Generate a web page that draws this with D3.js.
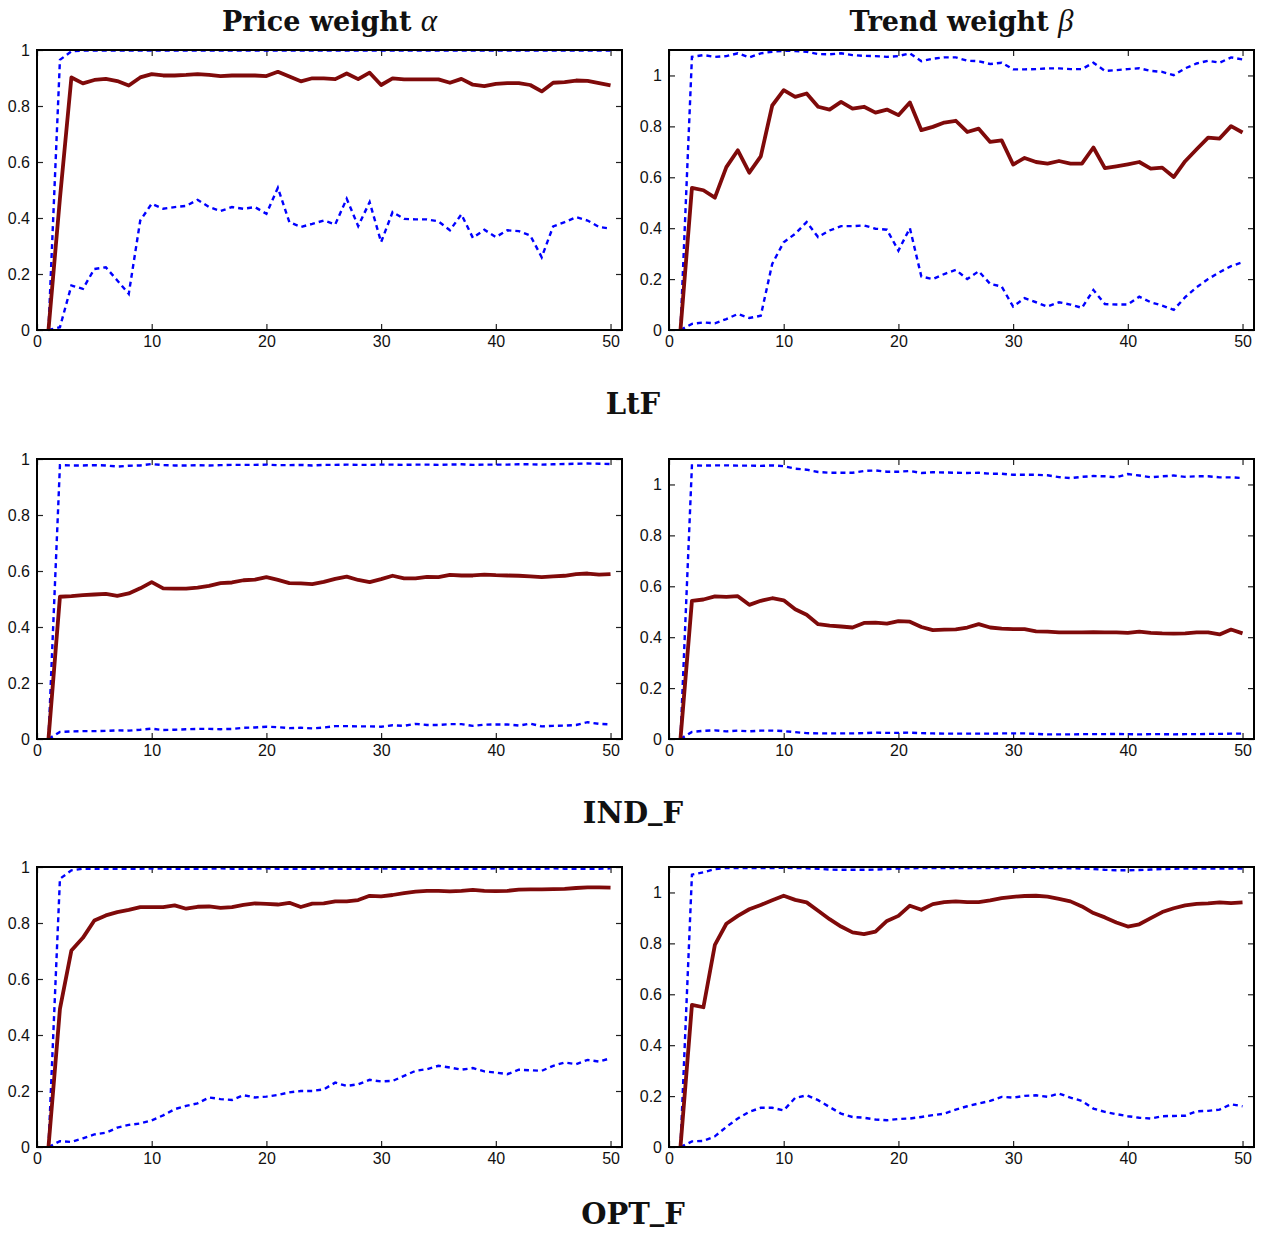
<!DOCTYPE html>
<html>
<head>
<meta charset="utf-8">
<script src="https://cdn.jsdelivr.net/npm/d3@7"></script>
<style>
  body { margin: 0; background: #fff; }
  .tick text { font-family: "Liberation Sans", Arial, sans-serif; font-size: 16px; fill: #111; }
  .title { font-family: "DejaVu Serif", "Liberation Serif", serif; font-weight: bold; font-size: 27px; fill: #111; }
  .rowlabel { font-family: "DejaVu Serif", "Liberation Serif", serif; font-weight: bold; font-size: 29px; fill: #111; }
</style>
</head>
<body>
<svg id="chart" width="1265" height="1233"></svg>
<script>
// horizon 1..50
const steps = d3.range(1, 51);

const colTitles = ["Price weight ", "Trend weight "];
const colGreek = ["α", "β"];
const rowLabels = [["LtF"], ["IND", "F"], ["OPT", "F"]];
const xTicks = [0, 10, 20, 30, 40, 50];
const yTicks = [0, 0.2, 0.4, 0.6, 0.8, 1];

// LtF, price weight alpha
const ltfAlphaMed = [0,0.47,0.902,0.881,0.893,0.897,0.889,0.873,0.902,0.914,0.909,0.909,0.911,0.914,0.911,0.907,0.909,0.909,0.909,0.907,0.922,0.905,0.888,0.899,0.899,0.896,0.916,0.896,0.919,0.875,0.899,0.895,0.895,0.895,0.895,0.883,0.897,0.876,0.871,0.879,0.882,0.882,0.875,0.852,0.883,0.885,0.891,0.89,0.882,0.874];
const ltfAlphaHi = [0,0.965,0.995,0.998,0.998,0.998,0.998,0.998,0.998,0.998,0.998,0.998,0.998,0.998,0.998,0.998,0.998,0.998,0.998,0.998,0.998,0.998,0.998,0.998,0.998,0.998,0.998,0.998,0.998,0.998,0.998,0.998,0.998,0.998,0.998,0.998,0.998,0.998,0.998,0.998,0.998,0.998,0.998,0.998,0.998,0.998,0.998,0.998,0.998,0.998];
const ltfAlphaLo = [0,0.01,0.159,0.147,0.218,0.224,0.177,0.129,0.391,0.451,0.433,0.439,0.443,0.465,0.439,0.425,0.439,0.433,0.439,0.415,0.508,0.385,0.368,0.379,0.391,0.377,0.469,0.371,0.457,0.314,0.421,0.397,0.395,0.395,0.388,0.356,0.413,0.329,0.358,0.332,0.356,0.353,0.338,0.26,0.37,0.385,0.403,0.391,0.368,0.362];

// LtF, trend weight beta
const ltfBetaMed = [0,0.558,0.549,0.52,0.64,0.706,0.618,0.682,0.882,0.942,0.916,0.929,0.877,0.866,0.896,0.87,0.877,0.854,0.866,0.844,0.894,0.785,0.798,0.815,0.822,0.778,0.791,0.739,0.745,0.65,0.676,0.66,0.654,0.664,0.654,0.654,0.717,0.636,0.643,0.651,0.66,0.634,0.638,0.601,0.663,0.71,0.756,0.752,0.801,0.776];
const ltfBetaHi = [0,1.073,1.08,1.073,1.076,1.087,1.071,1.087,1.093,1.097,1.096,1.093,1.084,1.083,1.087,1.08,1.077,1.076,1.073,1.076,1.087,1.056,1.066,1.071,1.071,1.058,1.056,1.045,1.05,1.024,1.024,1.025,1.028,1.028,1.025,1.025,1.05,1.018,1.021,1.025,1.028,1.018,1.014,1.001,1.028,1.047,1.058,1.05,1.071,1.063];
const ltfBetaLo = [0,0.024,0.03,0.026,0.043,0.063,0.047,0.056,0.26,0.345,0.378,0.424,0.365,0.391,0.408,0.408,0.411,0.398,0.394,0.312,0.4,0.21,0.2,0.22,0.236,0.2,0.231,0.181,0.171,0.092,0.125,0.109,0.092,0.109,0.1,0.087,0.157,0.102,0.1,0.1,0.131,0.109,0.096,0.079,0.129,0.168,0.2,0.227,0.251,0.266];

// IND_F, price weight alpha
const indAlphaMed = [0,0.508,0.51,0.514,0.516,0.518,0.511,0.52,0.538,0.56,0.538,0.537,0.537,0.541,0.547,0.557,0.559,0.567,0.569,0.578,0.568,0.557,0.556,0.553,0.561,0.572,0.58,0.568,0.56,0.571,0.583,0.574,0.574,0.579,0.578,0.586,0.584,0.584,0.587,0.585,0.584,0.583,0.581,0.578,0.581,0.583,0.589,0.591,0.587,0.589];
const indAlphaHi = [0,0.978,0.977,0.977,0.978,0.977,0.973,0.976,0.977,0.982,0.978,0.977,0.977,0.978,0.977,0.978,0.979,0.979,0.979,0.98,0.978,0.978,0.979,0.977,0.979,0.979,0.98,0.979,0.979,0.98,0.98,0.979,0.98,0.98,0.979,0.98,0.981,0.979,0.98,0.98,0.98,0.981,0.981,0.98,0.981,0.982,0.983,0.984,0.983,0.982];
const indAlphaLo = [0,0.025,0.027,0.028,0.028,0.029,0.031,0.03,0.033,0.037,0.032,0.033,0.035,0.036,0.036,0.035,0.036,0.04,0.041,0.044,0.042,0.039,0.04,0.038,0.041,0.046,0.046,0.045,0.045,0.044,0.049,0.047,0.054,0.05,0.05,0.053,0.053,0.047,0.051,0.052,0.052,0.048,0.055,0.045,0.047,0.048,0.05,0.06,0.054,0.052];

// IND_F, trend weight beta
const indBetaMed = [0,0.543,0.548,0.56,0.558,0.561,0.527,0.543,0.553,0.545,0.51,0.488,0.451,0.445,0.442,0.438,0.456,0.457,0.453,0.463,0.461,0.44,0.428,0.43,0.431,0.438,0.451,0.438,0.434,0.432,0.432,0.423,0.422,0.419,0.419,0.419,0.42,0.419,0.419,0.417,0.422,0.417,0.415,0.414,0.415,0.419,0.419,0.411,0.43,0.415];
const indBetaHi = [0,1.075,1.074,1.075,1.075,1.074,1.074,1.073,1.075,1.072,1.062,1.058,1.049,1.046,1.046,1.046,1.053,1.055,1.05,1.05,1.053,1.045,1.048,1.047,1.046,1.045,1.046,1.042,1.042,1.038,1.038,1.038,1.036,1.029,1.025,1.03,1.033,1.032,1.028,1.041,1.035,1.028,1.032,1.035,1.03,1.032,1.032,1.028,1.028,1.025];
const indBetaLo = [0,0.028,0.032,0.034,0.03,0.033,0.03,0.033,0.033,0.031,0.027,0.023,0.022,0.022,0.022,0.022,0.023,0.025,0.024,0.024,0.025,0.023,0.022,0.021,0.021,0.021,0.021,0.021,0.022,0.022,0.022,0.02,0.018,0.018,0.018,0.019,0.019,0.019,0.02,0.019,0.018,0.019,0.019,0.018,0.019,0.019,0.02,0.02,0.021,0.021];

// OPT_F, price weight alpha
const optAlphaMed = [0,0.493,0.702,0.747,0.809,0.827,0.839,0.847,0.857,0.857,0.857,0.863,0.851,0.858,0.859,0.854,0.857,0.865,0.87,0.868,0.866,0.872,0.857,0.869,0.87,0.877,0.877,0.882,0.897,0.895,0.9,0.907,0.912,0.915,0.915,0.913,0.915,0.918,0.915,0.914,0.915,0.919,0.92,0.92,0.921,0.922,0.925,0.927,0.927,0.926];
const optAlphaHi = [0,0.958,0.988,0.994,0.994,0.994,0.994,0.994,0.994,0.995,0.994,0.994,0.994,0.994,0.994,0.995,0.994,0.994,0.994,0.995,0.994,0.994,0.994,0.994,0.995,0.994,0.994,0.994,0.994,0.995,0.994,0.994,0.994,0.994,0.995,0.994,0.994,0.994,0.994,0.995,0.994,0.994,0.994,0.994,0.995,0.994,0.994,0.994,0.994,0.995];
const optAlphaLo = [0,0.021,0.018,0.031,0.045,0.051,0.069,0.079,0.084,0.095,0.113,0.135,0.147,0.156,0.177,0.171,0.168,0.185,0.177,0.18,0.186,0.195,0.2,0.2,0.206,0.23,0.218,0.224,0.24,0.234,0.236,0.254,0.272,0.278,0.29,0.284,0.276,0.282,0.27,0.266,0.26,0.276,0.274,0.272,0.29,0.302,0.296,0.311,0.305,0.317];

// OPT_F, trend weight beta
const optBetaMed = [0,0.558,0.549,0.794,0.877,0.908,0.934,0.951,0.969,0.987,0.971,0.961,0.928,0.895,0.866,0.843,0.836,0.846,0.888,0.908,0.948,0.932,0.954,0.962,0.965,0.962,0.962,0.969,0.978,0.983,0.986,0.987,0.984,0.975,0.965,0.945,0.919,0.902,0.882,0.866,0.875,0.899,0.923,0.938,0.949,0.955,0.957,0.961,0.958,0.961];
const optBetaHi = [0,1.07,1.079,1.092,1.096,1.096,1.096,1.096,1.096,1.097,1.096,1.095,1.093,1.09,1.089,1.089,1.089,1.09,1.092,1.094,1.095,1.096,1.096,1.096,1.096,1.096,1.096,1.096,1.096,1.097,1.097,1.097,1.096,1.096,1.095,1.094,1.092,1.089,1.087,1.087,1.088,1.09,1.092,1.093,1.094,1.094,1.094,1.094,1.094,1.094];
const optBetaLo = [0,0.022,0.024,0.042,0.079,0.112,0.138,0.154,0.154,0.144,0.193,0.203,0.184,0.157,0.131,0.118,0.115,0.108,0.105,0.11,0.112,0.118,0.125,0.131,0.147,0.16,0.171,0.181,0.197,0.194,0.201,0.203,0.197,0.21,0.194,0.181,0.151,0.138,0.129,0.121,0.115,0.112,0.121,0.122,0.123,0.14,0.142,0.147,0.168,0.16];

const panels = [
  {row: 0, col: 0, ymax: 1,   med: ltfAlphaMed, hi: ltfAlphaHi, lo: ltfAlphaLo},
  {row: 0, col: 1, ymax: 1.1, med: ltfBetaMed,  hi: ltfBetaHi,  lo: ltfBetaLo},
  {row: 1, col: 0, ymax: 1,   med: indAlphaMed, hi: indAlphaHi, lo: indAlphaLo},
  {row: 1, col: 1, ymax: 1.1, med: indBetaMed,  hi: indBetaHi,  lo: indBetaLo},
  {row: 2, col: 0, ymax: 1,   med: optAlphaMed, hi: optAlphaHi, lo: optAlphaLo},
  {row: 2, col: 1, ymax: 1.1, med: optBetaMed,  hi: optBetaHi,  lo: optBetaLo}
];

const svg = d3.select('#chart');
const colLeft = [37, 669];
const rowTop = [50, 459, 867];
const pw = 585, ph = 280;

// column titles
colTitles.forEach((t, i) => {
  const txt = svg.append('text')
    .attr('class', 'title')
    .attr('x', colLeft[i] + pw / 2)
    .attr('y', 31)
    .attr('text-anchor', 'middle');
  txt.append('tspan').text(t);
  txt.append('tspan').text(colGreek[i])
    .style('font-style', 'italic').style('font-weight', 'normal')
    .style('font-family', '"Liberation Serif", serif').style('font-size', '31px');
});

// row labels (underscore drawn sitting on the baseline, as in LaTeX)
rowLabels.forEach((parts, i) => {
  const txt = svg.append('text')
    .attr('class', 'rowlabel')
    .attr('x', 633)
    .attr('y', Math.min(rowTop[i] + ph + 84, 1224))
    .attr('text-anchor', 'middle');
  txt.append('tspan').text(parts[0]);
  if (parts.length > 1) {
    txt.append('tspan').attr('dy', -4).text('_');
    txt.append('tspan').attr('dy', 4).text(parts[1]);
  }
});

panels.forEach(p => {
  const g = svg.append('g')
    .attr('transform', `translate(${colLeft[p.col]},${rowTop[p.row]})`);

  const x = d3.scaleLinear().domain([0, 51]).range([0, pw]);
  const y = d3.scaleLinear().domain([0, p.ymax]).range([ph, 0]);

  // axes with inward ticks on all four sides
  g.append('g').attr('transform', `translate(0,${ph})`)
    .call(d3.axisBottom(x).tickValues(xTicks).tickSize(-6).tickPadding(6));
  g.append('g')
    .call(d3.axisTop(x).tickValues(xTicks).tickSize(-6).tickFormat(''));
  g.append('g')
    .call(d3.axisLeft(y).tickValues(yTicks).tickSize(-6).tickPadding(7).tickFormat(d3.format('~g')));
  g.append('g').attr('transform', `translate(${pw},0)`)
    .call(d3.axisRight(y).tickValues(yTicks).tickSize(-6).tickFormat(''));
  g.selectAll('.domain').remove();
  g.selectAll('.tick line').attr('stroke', '#222').attr('stroke-width', 1.2);

  const line = d3.line().x((d, i) => x(steps[i])).y(d => y(d));

  g.append('path').datum(p.hi)
    .attr('d', line).attr('fill', 'none')
    .attr('stroke', '#0000ff').attr('stroke-width', 2.4)
    .attr('stroke-dasharray', '5,4');
  g.append('path').datum(p.lo)
    .attr('d', line).attr('fill', 'none')
    .attr('stroke', '#0000ff').attr('stroke-width', 2.4)
    .attr('stroke-dasharray', '5,4');
  g.append('path').datum(p.med)
    .attr('d', line).attr('fill', 'none')
    .attr('stroke', '#7f0a0a').attr('stroke-width', 3.8)
    .attr('stroke-linejoin', 'round');

  // frame
  g.append('rect')
    .attr('width', pw).attr('height', ph)
    .attr('fill', 'none').attr('stroke', '#000').attr('stroke-width', 2);
});
</script>
</body>
</html>
